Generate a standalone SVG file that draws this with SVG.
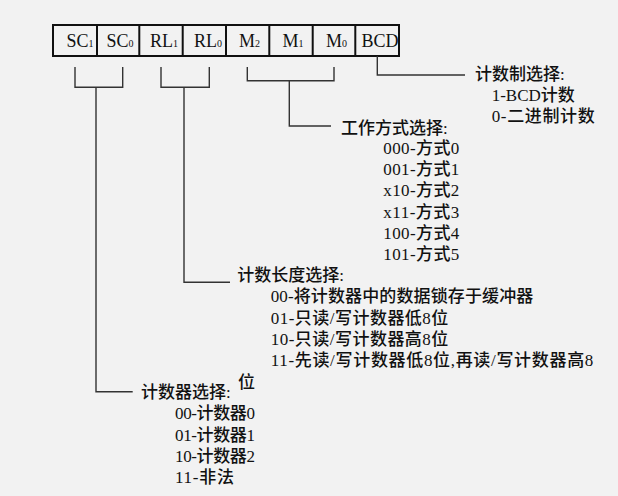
<svg xmlns="http://www.w3.org/2000/svg" width="618" height="496" viewBox="0 0 618 496">
<style>
.bg{fill:#f2f2f2}
.cell{fill:none;stroke:#111;stroke-width:2}
.reg{font-family:"Liberation Serif","Times New Roman",serif;font-size:18px;fill:#111}
.sub{font-size:10px}
.lbl{font-family:"Liberation Serif","Noto Sans CJK SC",serif;font-size:17px;font-weight:500;fill:#111}
.ln{fill:none;stroke:#333;stroke-width:1.4}
</style>
<rect class="bg" x="0" y="0" width="618" height="496"/>
<g id="register">
<rect class="cell" x="53" y="25" width="346" height="31"/>
<path class="cell" d="M97,25V56M139.3,25V56M182.7,25V56M226,25V56M269.3,25V56M312.7,25V56M355.3,25V56"/>
<text class="reg" x="66.5" y="47.3">SC<tspan class="sub">1</tspan></text>
<text class="reg" x="106.5" y="47.3">SC<tspan class="sub">0</tspan></text>
<text class="reg" x="150" y="47.3">RL<tspan class="sub">1</tspan></text>
<text class="reg" x="194" y="47.3">RL<tspan class="sub">0</tspan></text>
<text class="reg" x="239" y="47.3">M<tspan class="sub">2</tspan></text>
<text class="reg" x="282.5" y="47.3">M<tspan class="sub">1</tspan></text>
<text class="reg" x="326" y="47.3">M<tspan class="sub">0</tspan></text>
<text class="reg" x="361.5" y="47.3">BCD</text>
</g>
<g id="connectors">
<path class="ln" d="M75,67V87.3H122.7V67M96,87.3V391.7H132.7"/>
<path class="ln" d="M161,67V87.3H209.3V67M184,87.3V282.3H230"/>
<path class="ln" d="M247.3,67V80.7H334V67M289.3,80.7V126H331"/>
<path class="ln" d="M377.3,56V75H465"/>
</g>
<g id="bcd-select">
<text class="lbl" x="475" y="79.5">计数制选择:</text>
<text class="lbl" x="491.7" y="101">1-BCD计数</text>
<text class="lbl" x="491.7" y="122" textLength="103" lengthAdjust="spacing">0-二进制计数</text>
</g>
<g id="mode-select">
<text class="lbl" x="341" y="134">工作方式选择:</text>
<text class="lbl" x="383.3" y="154" textLength="76" lengthAdjust="spacing">000-方式0</text>
<text class="lbl" x="383.3" y="175.2" textLength="76" lengthAdjust="spacing">001-方式1</text>
<text class="lbl" x="383.3" y="196.4" textLength="76" lengthAdjust="spacing">x10-方式2</text>
<text class="lbl" x="383.3" y="217.6" textLength="76" lengthAdjust="spacing">x11-方式3</text>
<text class="lbl" x="383.3" y="238.8" textLength="76" lengthAdjust="spacing">100-方式4</text>
<text class="lbl" x="383.3" y="260" textLength="76" lengthAdjust="spacing">101-方式5</text>
</g>
<g id="rl-select">
<text class="lbl" x="237.3" y="281">计数长度选择:</text>
<text class="lbl" x="270.7" y="302" textLength="262.6" lengthAdjust="spacing">00-将计数器中的数据锁存于缓冲器</text>
<text class="lbl" x="270.7" y="323.5" textLength="177.6" lengthAdjust="spacing">01-只读/写计数器低8位</text>
<text class="lbl" x="270.7" y="344.5" textLength="177.6" lengthAdjust="spacing">10-只读/写计数器高8位</text>
<text class="lbl" x="270.7" y="366" textLength="322.6" lengthAdjust="spacing">11-先读/写计数器低8位,再读/写计数器高8</text>
<text class="lbl" x="238" y="388">位</text>
</g>
<g id="sc-select">
<text class="lbl" x="141" y="398">计数器选择:</text>
<text class="lbl" x="175" y="419" textLength="80" lengthAdjust="spacing">00-计数器0</text>
<text class="lbl" x="175" y="440.5" textLength="80" lengthAdjust="spacing">01-计数器1</text>
<text class="lbl" x="175" y="461.5" textLength="80" lengthAdjust="spacing">10-计数器2</text>
<text class="lbl" x="175" y="483" textLength="59" lengthAdjust="spacing">11-非法</text>
</g>
</svg>
